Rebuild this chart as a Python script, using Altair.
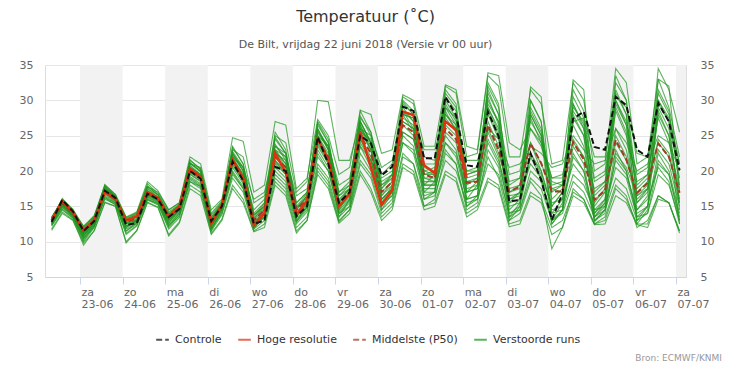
import altair as alt
import pandas as pd

# 6-hourly forecast times (local time), 22-06 08:00 .. 07-07 02:00
times = pd.date_range("2018-06-22 08:00", periods=60, freq="6h")
time_str = [t.strftime("%Y-%m-%dT%H:%M:%SZ") for t in times]

hres = [13.0, 15.8, 14.2, 11.6, 13.0, 17.0, 16.0, 13.0, 13.6, 17.0, 16.2, 13.6, 15.0, 20.3, 19.2,
        12.6, 15.2, 21.6, 19.0, 12.3, 14.0, 22.5, 19.8, 13.8, 15.8, 24.6, 21.5, 15.0, 16.8, 25.6,
        20.5, 15.2, 17.3, 28.4, 27.9, 20.8, 19.7, 27.0, 25.8, 19.0]

controle = [12.8, 15.9, 14.3, 11.5, 12.9, 17.2, 16.2, 12.4, 12.6, 16.8, 16.0, 13.5, 14.6, 20.0, 18.9,
            12.9, 15.0, 21.3, 18.6, 12.5, 13.0, 20.6, 20.0, 13.6, 15.0, 24.8, 21.0, 15.5, 17.0, 25.0,
            23.9, 19.4, 20.6, 29.1, 28.5, 21.8, 21.8, 30.5, 27.9, 20.8, 20.6, 28.4, 24.9, 15.7, 15.9,
            22.5, 18.7, 13.1, 16.8, 27.4, 28.4, 23.4, 23.0, 30.5, 29.3, 23.0, 22.0, 29.6, 27.0, 20.1]

p50 = [13.0, 15.5, 14.0, 11.5, 13.0, 17.2, 16.0, 12.8, 13.3, 16.8, 16.0, 13.5, 14.8, 20.0, 19.0,
       12.8, 15.0, 21.5, 19.0, 13.0, 14.5, 22.0, 20.5, 14.5, 16.0, 24.5, 22.0, 15.5, 17.0, 25.0,
       22.5, 17.0, 18.5, 26.5, 25.5, 19.5, 19.0, 26.0, 24.5, 18.3, 18.5, 26.5, 23.0, 17.1, 17.8,
       23.9, 21.1, 17.1, 17.1, 24.1, 21.6, 15.9, 17.3, 24.4, 21.6, 16.9, 18.3, 23.9, 22.0, 16.9]

members = [
    [13.3,15.8,14.3, 12.0,13.5,17.8,16.5, 13.2,13.8,17.5,16.6, 14.0,15.2,21.0,20.0, 13.8,15.6,23.0,22.0, 15.5,16.5,25.0,24.0, 17.0,18.5,30.0,29.8, 21.5,21.5,27.0,24.0, 18.5,19.5,28.5,27.0, 20.5,20.0,29.0,27.5, 20.0,20.5,31.0,28.0, 19.5,20.0,28.0,25.0, 18.0,18.5,29.0,27.0, 19.0,20.0,30.0,27.0, 19.5,20.5,31.0,28.0, 21.0],
    [12.3,14.6,13.4, 10.2,12.2,16.0,15.3, 11.5,12.5,16.0,15.4, 12.0,13.8,18.5,17.8, 11.8,14.2,19.5,17.5, 12.0,13.5,19.5,18.0, 12.5,14.2,21.0,19.0, 13.5,15.0,21.5,19.5, 14.5,16.0,22.5,21.0, 16.0,16.5,21.5,20.0, 15.5,16.0,21.0,19.5, 14.0,14.5,19.0,17.5, 13.0,14.0,18.5,17.0, 13.5,14.5,19.0,17.5, 13.0,14.0,19.5,18.0, 13.0],
    [13.1,15.9,14.2, 11.4,12.9,17.3,16.1, 12.6,13.0,17.0,16.1, 13.4,14.7,20.2,19.1, 12.9,15.1,21.8,19.3, 13.3,14.8,22.8,21.0, 14.2,16.0,25.0,22.5, 16.0,17.5,26.0,24.0, 19.0,20.0,28.0,27.5, 21.0,21.0,29.5,27.0, 20.0,20.0,28.5,25.0, 16.5,16.8,24.0,20.0, 15.0,17.0,27.0,27.5, 22.0,22.0,30.5,29.0, 22.5,22.0,30.0,27.5, 21.0],
    [12.6,15.2,13.8, 11.0,12.6,16.8,15.7, 12.2,13.0,16.5,15.8, 13.0,14.5,19.5,18.5, 12.5,14.8,21.0,18.5, 12.5,14.0,21.5,20.0, 14.0,15.5,24.0,21.5, 15.0,16.5,24.5,21.5, 16.5,18.0,27.0,26.0, 19.0,18.5,25.5,24.0, 17.0,17.5,27.0,23.5, 15.5,16.0,22.5,19.5, 12.5,14.5,22.0,20.0, 14.0,15.5,25.0,22.0, 16.0,17.5,24.5,22.5, 15.5],
    [13.4,15.6,14.1, 11.8,13.2,17.6,16.3, 13.0,13.6,17.3,16.3, 13.8,15.0,20.6,19.5, 13.2,15.3,22.5,20.0, 14.0,15.5,23.5,22.0, 15.5,17.0,26.5,24.0, 17.0,18.5,27.5,25.5, 19.5,21.0,30.5,29.5, 22.0,21.5,32.0,31.0, 22.0,22.5,33.5,32.0, 22.0,22.0,31.5,29.5, 21.0,21.5,32.5,30.0, 20.0,21.0,34.5,32.5, 21.0,22.0,33.0,29.0, 22.0],
    [12.9,15.3,13.9, 11.2,12.8,17.0,15.9, 12.5,13.1,16.6,15.8, 13.3,14.6,19.8,18.8, 12.6,14.9,21.2,18.8, 12.8,14.2,21.5,19.5, 13.5,15.2,23.0,20.5, 14.5,16.0,23.5,20.5, 15.5,17.0,24.0,23.0, 17.5,17.5,23.0,21.0, 15.0,16.0,22.0,19.0, 13.0,14.0,18.5,16.5, 9.0,12.0,17.5,16.0, 12.5,13.5,18.0,16.5, 12.0,13.0,16.5,15.5, 11.5],
    [11.8,14.2,13.1, 9.5,11.6,15.6,15.0, 10.0,11.6,15.6,14.9, 11.0,12.8,18.0,17.0, 11.2,13.2,18.0,16.0, 11.5,12.5,18.5,17.0, 11.5,13.0,20.0,18.0, 12.8,14.5,20.0,17.5, 13.5,15.0,21.0,20.0, 15.0,15.5,20.0,19.0, 14.0,15.0,19.0,18.0, 12.5,13.0,17.0,16.0, 12.0,13.0,17.0,16.0, 12.5,13.0,17.5,16.0, 12.5,12.5,16.5,15.5, 11.5],
    [13.2,16.1,14.5, 11.6,13.3,18.1,16.6, 13.3,14.0,18.2,16.8, 14.2,15.3,21.5,20.3, 13.5,15.5,23.5,21.0, 13.8,15.0,24.5,22.5, 14.5,16.5,26.0,23.0, 15.8,17.5,27.0,24.0, 18.0,19.0,29.5,28.0, 20.0,20.5,30.5,28.5, 19.0,19.5,30.0,27.0, 16.0,17.0,29.0,26.0, 17.0,18.0,31.5,28.5, 16.5,18.0,32.5,30.0, 18.0,19.5,34.5,31.5, 25.5],
    [13.0,15.4,14.0, 11.3,13.0,17.1,16.0, 12.9,13.4,16.9,16.1, 13.6,14.9,20.1,19.0, 12.7,15.0,21.4,19.0, 13.0,14.6,22.0,20.5, 14.8,16.2,24.5,22.0, 15.5,17.0,25.5,23.0, 17.0,18.5,26.5,25.0, 19.0,19.0,26.5,25.0, 18.5,18.5,26.0,22.5, 17.5,18.0,24.0,21.0, 17.5,17.0,24.5,22.0, 16.0,17.0,24.0,21.5, 17.0,18.5,24.0,22.0, 17.0],
    [12.5,14.9,13.6, 10.6,12.3,16.4,15.5, 11.8,12.6,16.2,15.5, 12.5,14.0,19.0,18.0, 12.0,14.4,20.0,17.8, 12.2,13.8,20.5,19.0, 13.0,14.8,22.0,20.0, 14.0,15.5,23.5,21.5, 16.0,17.5,25.5,24.5, 18.5,18.5,27.0,26.0, 19.5,20.0,29.5,27.0, 18.0,19.0,27.5,24.0, 17.5,18.0,26.5,23.5, 14.5,16.0,26.0,23.0, 15.5,17.0,28.0,25.0, 16.0],
    [13.5,15.7,14.4, 12.2,13.6,17.5,16.4, 13.4,14.1,17.8,17.0, 14.5,15.5,21.0,20.5, 14.0,15.8,22.0,20.5, 16.0,17.0,23.0,22.0, 16.5,17.5,25.5,23.5, 18.0,19.0,26.0,25.0, 20.5,21.5,28.0,27.5, 23.0,23.0,28.0,26.0, 21.5,21.5,26.0,24.5, 20.5,21.0,23.5,22.5, 20.5,21.0,25.0,23.0, 21.0,21.5,26.0,24.0, 20.0,21.0,25.0,24.0, 20.0],
    [12.7,15.1,13.7, 10.8,12.5,16.6,15.6, 12.0,12.8,16.3,15.6, 12.8,14.2,19.2,18.2, 12.2,14.6,20.5,18.2, 12.0,13.5,21.0,19.5, 13.2,15.0,23.5,21.0, 14.2,15.8,24.0,21.5, 15.0,16.5,25.0,23.5, 17.0,17.0,25.0,23.0, 16.0,16.5,25.5,22.0, 14.0,15.0,22.0,19.0, 13.0,14.5,23.5,21.0, 13.0,14.5,23.0,20.0, 13.5,15.0,22.5,20.0, 14.0],
    [13.3,15.9,14.3, 11.9,13.4,17.9,16.4, 13.1,13.9,17.8,16.6, 13.9,15.2,21.2,20.0, 13.0,15.4,22.8,20.5, 13.5,15.5,25.5,23.0, 15.0,16.8,27.0,24.5, 16.5,18.0,28.5,25.5, 17.5,19.5,30.0,28.5, 19.5,20.0,31.5,29.5, 18.0,19.0,32.0,29.0, 17.0,18.0,30.0,27.0, 16.0,17.5,29.5,26.5, 15.5,17.5,31.0,28.0, 16.5,18.0,31.5,28.5, 18.0],
    [12.4,14.8,13.5, 10.4,12.1,16.3,15.4, 11.0,12.2,15.9,15.2, 11.8,13.4,18.5,17.5, 11.5,13.8,19.0,17.0, 11.8,13.0,19.0,17.5, 12.0,13.5,20.5,18.5, 13.0,14.5,21.0,19.0, 14.0,15.5,22.0,21.0, 15.0,16.0,22.5,21.0, 14.5,15.5,23.0,20.5, 13.5,14.5,20.0,18.5, 14.0,14.5,19.5,18.0, 14.5,15.0,20.5,19.0, 13.5,14.0,21.0,19.5, 13.5],
    [12.8,15.5,14.0, 11.7,13.1,17.4,16.2, 12.7,13.2,16.7,15.9, 13.2,14.7,20.3,19.3, 13.1,15.2,21.7,19.6, 13.8,15.0,22.5,21.5, 14.8,16.5,25.5,23.0, 16.5,17.5,26.5,23.5, 17.5,19.0,27.5,26.5, 20.0,19.5,27.5,25.5, 18.5,19.0,28.0,24.5, 17.0,17.5,26.0,23.5, 18.5,18.0,27.5,25.0, 17.0,18.5,28.5,25.0, 18.5,19.5,27.5,24.0, 17.5],
    [12.6,15.0,13.8, 11.1,12.7,16.9,15.8, 12.3,12.9,16.4,15.7, 13.1,14.4,19.6,18.6, 12.4,14.7,20.8,18.6, 12.6,14.0,21.2,19.8, 13.8,15.4,23.8,21.2, 14.8,16.2,24.5,22.0, 16.0,17.5,25.5,24.5, 18.0,18.0,24.0,22.5, 17.0,17.5,24.5,21.5, 16.0,16.5,21.0,19.0, 15.5,16.0,21.0,19.0, 13.5,15.0,21.5,19.5, 14.5,16.0,20.5,18.5, 12.5],
    [13.4,16.0,14.6, 12.1,13.7,18.0,16.7, 13.5,14.2,18.5,17.2, 14.5,15.5,22.0,21.0, 14.5,16.0,24.7,24.2, 17.0,18.0,27.0,26.5, 17.5,19.0,27.3,25.0, 19.5,20.5,28.6,28.0, 22.5,23.0,30.8,30.0, 23.5,23.5,32.2,31.5, 23.5,23.0,33.9,33.5, 24.0,23.0,26.0,24.0, 19.0,19.5,24.0,22.0, 17.5,18.5,22.5,20.5, 16.5,17.5,23.0,21.0, 15.0],
    [11.6,14.0,13.0, 9.8,11.5,15.5,15.0, 9.8,11.5,15.5,14.8, 10.8,12.6,17.5,16.5, 11.0,13.0,17.5,15.5, 11.4,12.0,18.0,16.5, 11.2,13.0,19.5,17.5, 12.6,14.0,19.5,17.0, 13.0,14.5,20.5,19.5, 14.5,15.0,19.5,18.5, 13.5,14.5,18.5,17.5, 12.1,12.5,16.5,15.5, 11.0,12.0,16.5,15.5, 12.4,12.5,16.5,15.5, 12.4,12.0,16.0,15.5, 11.2],
    [13.1,15.7,14.1, 11.5,13.1,17.4,16.2, 12.9,13.6,17.2,16.3, 13.7,15.0,20.5,19.5, 13.4,15.4,22.2,20.0, 14.5,16.0,23.5,22.5, 15.5,17.0,25.0,23.5, 17.0,18.0,25.5,24.5, 18.0,19.5,27.0,26.0, 19.5,19.5,28.0,26.5, 19.5,20.0,29.0,26.0, 18.5,19.0,27.0,24.5, 19.0,19.0,28.5,26.0, 18.5,19.5,29.5,26.5, 17.5,19.0,29.5,27.0, 19.0],
    [12.2,14.5,13.3, 10.0,12.0,16.2,15.2, 11.2,12.3,16.0,15.3, 12.3,13.6,18.8,17.8, 11.8,14.0,19.8,17.5, 12.5,13.5,20.0,18.5, 12.8,14.5,22.5,20.0, 14.0,15.0,22.5,20.0, 15.5,16.5,24.0,22.5, 16.5,17.0,24.0,22.0, 16.0,16.5,24.0,21.0, 15.0,15.5,22.5,20.0, 14.5,15.0,22.5,20.0, 13.0,14.0,22.0,20.0, 14.0,15.0,21.5,19.5, 13.0],
    [12.9,15.6,13.9, 10.8,12.8,17.6,16.2, 12.0,13.1,17.6,16.2, 12.6,14.6,21.2,19.8, 12.0,14.9,22.6,20.0, 12.2,14.6,23.8,21.5, 13.5,15.8,26.0,23.0, 14.5,17.0,27.0,24.0, 15.5,18.0,29.0,27.0, 17.0,18.5,30.0,27.5, 16.0,18.0,31.5,28.0, 13.5,15.5,30.0,27.0, 13.0,15.5,30.5,27.5, 13.5,15.5,31.5,28.0, 13.0,15.0,30.0,27.0, 14.5],
    [12.7,15.4,13.7, 10.9,12.6,17.3,16.0, 12.2,12.9,17.1,16.0, 13.0,14.5,20.8,19.5, 12.3,14.7,22.4,20.5, 12.5,14.5,23.0,21.0, 14.0,15.5,25.8,23.5, 15.0,16.5,26.5,23.0, 16.0,17.5,28.5,26.0, 18.0,18.0,29.0,26.5, 17.5,18.0,30.5,26.5, 14.5,16.0,28.5,25.5, 14.0,16.0,29.5,26.0, 14.0,16.0,30.0,26.5, 14.5,16.5,29.0,26.0, 15.5],
    [12.4,15.2,13.6, 10.5,12.4,17.0,15.8, 11.5,12.7,17.0,15.9, 12.2,14.1,20.5,19.0, 11.6,14.5,22.0,19.5, 11.8,14.0,22.8,20.5, 12.8,15.0,25.0,22.0, 13.5,16.0,26.0,23.0, 14.5,17.0,28.0,25.5, 16.0,17.0,28.5,25.5, 15.0,16.5,29.0,25.5, 13.0,15.0,28.0,25.0, 12.5,14.5,28.0,25.0, 12.8,14.5,29.0,25.5, 12.5,14.5,28.5,25.0, 12.5],
    [13.2,15.9,14.2, 11.3,13.2,17.8,16.4, 12.6,13.5,17.9,16.6, 13.4,15.1,21.6,20.2, 12.8,15.2,23.3,21.0, 13.2,15.2,24.8,22.5, 14.5,16.5,26.8,24.0, 15.5,17.5,27.8,25.0, 16.5,18.5,29.8,28.0, 18.0,19.5,31.0,29.0, 17.0,18.5,32.5,29.5, 15.5,17.0,31.9,30.5, 15.0,17.0,32.9,31.5, 15.0,17.0,33.5,30.0, 15.5,17.5,33.0,32.0, 17.0],
]

series_names = ["Controle", "Hoge resolutie", "Middelste (P50)", "Verstoorde runs"]
series_colors = ["#111111", "#dd3311", "#a33a25", "#1e961e"]
series_dash = [[6, 3], [1, 0], [6, 3], [1, 0]]

tick_days = ["2018-06-23", "2018-06-24", "2018-06-25", "2018-06-26", "2018-06-27", "2018-06-28",
             "2018-06-29", "2018-06-30", "2018-07-01", "2018-07-02", "2018-07-03", "2018-07-04",
             "2018-07-05", "2018-07-06", "2018-07-07"]
shade_start = ["2018-06-23", "2018-06-25", "2018-06-27", "2018-06-29", "2018-07-01", "2018-07-03",
               "2018-07-05", "2018-07-07"]
shade_end = ["2018-06-24", "2018-06-26", "2018-06-28", "2018-06-30", "2018-07-02", "2018-07-04",
             "2018-07-06", "2018-07-08"]
y_ticks = [5, 10, 15, 20, 25, 30, 35]

FONT = "DejaVu Sans"

# ---- data frames
rows = []
for m, vals in enumerate(members):
    for t, v in zip(time_str, vals):
        rows.append({"t": t, "temp": v, "member": m, "serie": "Verstoorde runs"})
df_members = pd.DataFrame(rows)
df_ctrl = pd.DataFrame({"t": time_str, "temp": controle, "serie": "Controle"})
df_hres = pd.DataFrame({"t": time_str[:len(hres)], "temp": hres, "serie": "Hoge resolutie"})
df_p50 = pd.DataFrame({"t": time_str, "temp": p50, "serie": "Middelste (P50)"})
df_shade = pd.DataFrame({"t": [s + "T00:00:00Z" for s in shade_start],
                         "e": [e + "T00:00:00Z" for e in shade_end]})


def dt(s, h=0, mi=0):
    y, mo, d = [int(p) for p in s.split("-")]
    return alt.DateTime(year=y, month=mo, date=d, hours=h, minutes=mi, utc=True)


xscale = alt.Scale(type="utc", domain=[dt("2018-06-22", 4, 16), dt("2018-07-07", 5, 38)])
yscale = alt.Scale(domain=[5, 35], nice=False, zero=False)

x_axis = alt.Axis(
    values=[dt(d) for d in tick_days], title=None, grid=False,
    labelExpr="[['zo','ma','di','wo','do','vr','za'][utcday(datum.value)], utcFormat(datum.value, '%d-%m')]",
    labelAlign="left", labelBaseline="top", labelPadding=2, labelLineHeight=12,
    labelFont=FONT, labelFontSize=11, labelColor="#666666", labelOffset=1,
    tickSize=7, tickColor="#ccd6eb", domainColor="#ccd6eb", labelOverlap=False, labelFlush=False,
)
y_left = alt.Axis(values=y_ticks, title=None, grid=True, gridColor="#e6e6e6", ticks=False,
                  domain=False, labelPadding=12, labelFont=FONT, labelFontSize=11,
                  labelColor="#666666", orient="left")
y_right = alt.Axis(values=y_ticks, title=None, grid=False, ticks=False, domain=False,
                   labelPadding=14, labelFont=FONT, labelFontSize=11, labelColor="#666666",
                   orient="right")

legend = alt.Legend(orient="none", legendX=110, legendY=267, direction="horizontal", title=None,
                    symbolType="stroke", symbolStrokeWidth=2, symbolSize=160, labelFont=FONT,
                    labelFontSize=11, labelColor="#333333", columnPadding=12, labelOffset=5)
color = alt.Color("serie:N", scale=alt.Scale(domain=series_names, range=series_colors), legend=legend)
dash = alt.StrokeDash("serie:N", scale=alt.Scale(domain=series_names, range=series_dash), legend=legend)

X = alt.X("t:T", scale=xscale, axis=x_axis)

shade = alt.Chart(df_shade).mark_rect(color="#f2f2f2", clip=True).encode(x=X, x2="e:T")

green = alt.Chart(df_members).mark_line(strokeWidth=1.1, opacity=0.72).encode(
    x=X, y=alt.Y("temp:Q", scale=yscale, axis=y_left),
    detail="member:N", color=color, strokeDash=dash)

p50_line = alt.Chart(df_p50).mark_line(strokeWidth=2).encode(
    x=X, y=alt.Y("temp:Q", scale=yscale, axis=None), color=color, strokeDash=dash)

hres_line = alt.Chart(df_hres).mark_line(strokeWidth=2.5).encode(
    x=X, y=alt.Y("temp:Q", scale=yscale, axis=None), color=color, strokeDash=dash)

ctrl_line = alt.Chart(df_ctrl).mark_line(strokeWidth=2).encode(
    x=X, y=alt.Y("temp:Q", scale=yscale, axis=y_right), color=color, strokeDash=dash)

credit = alt.Chart(pd.DataFrame({"txt": ["Bron: ECMWF/KNMI"]})).mark_text(
    align="right", baseline="middle", font=FONT, fontSize=9, color="#999999").encode(
    x=alt.value(677), y=alt.value(293), text="txt:N")

chart = alt.layer(shade, green, p50_line, hres_line, ctrl_line, credit).resolve_axis(
    y="independent").properties(
    width=641, height=212,
    padding={"left": 11, "top": 1, "right": 0, "bottom": 0},
    title=alt.TitleParams(
        text="Temperatuur (˚C)",
        subtitle="De Bilt, vrijdag 22 juni 2018 (Versie vr 00 uur)",
        font=FONT, fontSize=16, fontWeight="normal", color="#333333",
        subtitleFont=FONT, subtitleFontSize=11, subtitleColor="#555555",
        subtitlePadding=14, offset=9, anchor="middle"),
).configure_view(stroke=None).configure(background="white")

chart.save("out.html", embed_options={"renderer": "svg", "actions": False})
